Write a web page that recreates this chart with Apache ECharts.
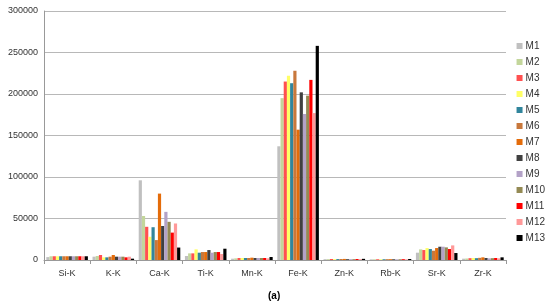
<!DOCTYPE html>
<html>
<head>
<meta charset="utf-8">
<script src="https://cdn.jsdelivr.net/npm/echarts@6/dist/echarts.min.js"></script>
<style>
  html, body { margin: 0; padding: 0; background: #fff; }
  #chart { width: 550px; height: 308px; }
</style>
</head>
<body>
<div id="chart"></div>
<script>
var categories = ['Si-K','K-K','Ca-K','Ti-K','Mn-K','Fe-K','Zn-K','Rb-K','Sr-K','Zr-K'];
var seriesNames = ['M1','M2','M3','M4','M5','M6','M7','M8','M9','M10','M11','M12','M13'];
var colors = ['#c0c0c0','#c3d69b','#ff5050','#ffff66','#31859c','#c8783c','#e46c0a','#404040','#b3a2c7','#948a54','#ff0000','#ff9999','#000000'];

// one row per sample, values per element
var M1  = [3500, 4000, 96000, 4800, 1600, 137000, 1000,  800,  8800, 1600];
var M2  = [4500, 4800, 53000, 8000, 2000, 195000, 1000,  800, 12800, 1800];
var M3  = [4500, 6000, 40000, 8000, 2400, 215000, 1200,  900, 12000, 2200];
var M4  = [4500, 3200, 28000, 12800, 2400, 222000, 1000,  800, 14400, 2400];
var M5  = [4500, 3200, 39500, 8800, 2400, 213000, 1100,  900, 13200, 2200];
var M6  = [4500, 4000, 24000, 9600, 2400, 228000, 1200, 1000, 11200, 2600];
var M7  = [4500, 6000, 80000, 9600, 2800, 157000, 1300, 1000, 14400, 3200];
var M8  = [4500, 4000, 41000, 12000, 2400, 202000, 1000,  900, 16000, 2400];
var M9  = [4500, 4000, 58000, 8800, 2400, 176000, 1000,  800, 16000, 2000];
var M10 = [4500, 4000, 46000, 9600, 2400, 198000, 1000,  900, 15200, 2200];
var M11 = [4500, 3200, 33000, 9600, 2400, 217000, 1200, 1000, 13200, 2400];
var M12 = [4500, 4000, 44000, 7200, 2000, 177000, 1000,  800, 17600, 2000];
var M13 = [4500, 1600, 15000, 13600, 3600, 258000, 1400, 1200,  8400, 3200];
var seriesData = [M1, M2, M3, M4, M5, M6, M7, M8, M9, M10, M11, M12, M13];

var yTicks = [0, 50000, 100000, 150000, 200000, 250000, 300000];

var series = [];
for (var i = 0; i < seriesNames.length; i++) {
    series.push({
        name: seriesNames[i],
        type: 'bar',
        data: seriesData[i],
        barGap: '0%',
        barCategoryGap: '10%',
        itemStyle: { color: colors[i] }
    });
}

var option = {
    animation: false,
    textStyle: { fontFamily: 'Liberation Sans, Arial, sans-serif' },
    color: colors,
    legend: {
        orient: 'vertical',
        right: 0,
        top: 36,
        itemWidth: 6,
        itemHeight: 6,
        itemGap: 6,
        icon: 'rect',
        textStyle: { fontSize: 10, color: '#333', padding: [0, 0, 0, -2] },
        data: seriesNames
    },
    grid: {
        left: 44,
        right: 44,
        top: 11,
        bottom: 48
    },
    xAxis: {
        type: 'category',
        data: categories,
        axisLine: { lineStyle: { color: '#999' } },
        axisTick: { show: true, length: 4, lineStyle: { color: '#999' } },
        axisLabel: { fontSize: 9, color: '#333', margin: 9 }
    },
    yAxis: {
        type: 'value',
        min: yTicks[0],
        max: yTicks[yTicks.length - 1],
        interval: 50000,
        axisLine: { show: true, lineStyle: { color: '#999' } },
        axisTick: { show: false },
        axisLabel: {
            fontSize: 9, color: '#333', margin: 6,
            formatter: function(v) { return String(v); }
        },
        splitLine: { lineStyle: { color: '#b8b8b8' } }
    },
    graphic: [{
        type: 'text',
        left: 268,
        top: 291,
        style: { text: '(a)', font: 'bold 10px Liberation Sans, Arial, sans-serif', fill: '#000' }
    }],
    series: series
};

var myChart = echarts.init(document.getElementById('chart'));
myChart.setOption(option);
</script>
</body>
</html>
